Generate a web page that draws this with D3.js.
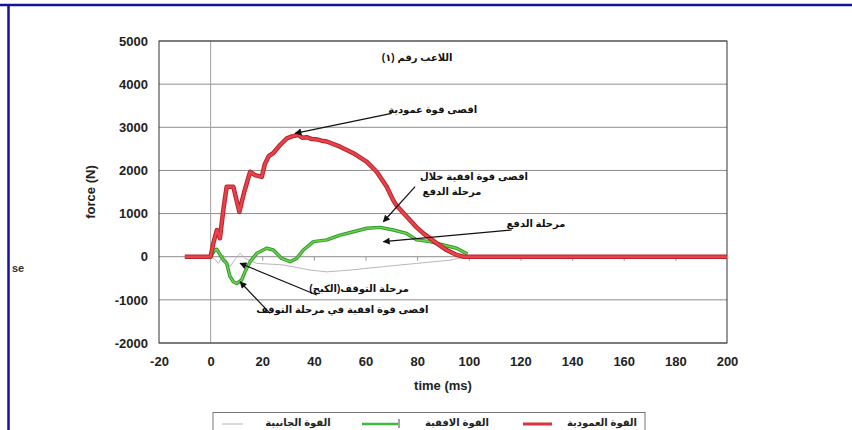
<!DOCTYPE html>
<html>
<head>
<meta charset="utf-8">
<script src="https://cdn.jsdelivr.net/npm/d3@7"></script>
<style>
  body { margin: 0; background: #fff; }
  text { font-family: "Liberation Sans", "DejaVu Sans", Arial, sans-serif; }
</style>
</head>
<body>
<div id="chart"></div>
<script>
// vertical force (red)
var vertT = [-10, 0, 1, 2.4, 3.6, 4.9, 6.2, 8.8, 11.1, 13, 15.3, 17.2, 19.8, 21, 22.5, 24.2, 26.9, 29.5, 31.5, 34, 35.5, 37.2, 39, 41.1, 43, 45, 50.1, 55.3, 60.5, 64.3, 68.2, 70.8, 72.1, 75.9, 79.8, 82.4, 87.6, 91.4, 95, 98, 200];
var vertV = [0, 0, 300, 620, 430, 1080, 1620, 1620, 1040, 1500, 1970, 1890, 1850, 2150, 2330, 2400, 2590, 2745, 2790, 2820, 2760, 2770, 2730, 2720, 2690, 2670, 2550, 2400, 2200, 1970, 1620, 1300, 1180, 930, 680, 540, 310, 155, 50, 0, 0];

// horizontal force (green)
var horT = [0, 1.5, 2.4, 4.9, 6.2, 7.5, 8.8, 10.1, 12, 13.3, 15.3, 17.9, 21.7, 24.3, 27.5, 30.8, 33.3, 35.9, 39.8, 45, 50.1, 55.3, 60.5, 65.6, 70.8, 75.9, 79.8, 85, 90.1, 95.3, 99.5];
var horV = [0, 150, 170, -75, -155, -460, -580, -620, -540, -350, -115, 80, 195, 155, -40, -115, -40, 155, 350, 390, 500, 580, 660, 680, 620, 540, 390, 350, 270, 195, 60];

// lateral force (gray)
var latT = [0, 1.5, 3, 4.9, 7.5, 9.5, 11.4, 13.3, 17.9, 28.2, 38.5, 45, 54, 66.9, 79.8, 92.7, 99];
var latV = [0, -50, -155, 40, -230, -60, 80, -40, -155, -190, -310, -350, -310, -230, -155, -80, 0];

var yTicks = [-2000, -1000, 0, 1000, 2000, 3000, 4000, 5000];
var xTicks = [-20, 0, 20, 40, 60, 80, 100, 120, 140, 160, 180, 200];

var seriesNames = ["القوة الجانبية", "القوة الافقية", "القوة العمودية"];
var seriesColors = ["#b8b8b8", "#3dbb3d", "#d8323a"];

// annotations: text centre, arrow tip and tail in data units
var notes = [
  {lines: ["اقصى قوة عمودية"], tx: [86], ty: 3320, tip: [32.7, 2860], tail: [70.1, 3324]},
  {lines: ["اقصى قوة افقية خلال", "مرحلة الدفع"], tx: [102, 93.5], ty: 1780, tip: [66.9, 811], tail: [79.2, 1623]},
  {lines: ["مرحلة الدفع"], tx: [126], ty: 680, tip: [66.9, 348], tail: [116.6, 619]},
  {lines: ["مرحلة التوقف(الكبح)"], tx: [57.5], ty: -820, tip: [11.4, -153], tail: [41.1, -888]},
  {lines: ["اقصى قوة افقية في مرحلة التوقف"], tx: [51], ty: -1300, tip: [11.4, -580], tail: [23, -1312]}
];

var W = 852, H = 430;
var margin = {top: 41, right: 125, bottom: 87, left: 159};
var width = W - margin.left - margin.right,
    height = H - margin.top - margin.bottom;

var svg = d3.select("#chart").append("svg")
  .attr("width", W).attr("height", H);

// slide frame
svg.append("line").attr("x1", 0).attr("x2", W).attr("y1", 5).attr("y2", 5)
  .attr("stroke", "#14149a").attr("stroke-width", 2.5);
svg.append("line").attr("x1", 8.5).attr("x2", 8.5).attr("y1", 5).attr("y2", H)
  .attr("stroke", "#14149a").attr("stroke-width", 2.5);
svg.append("text").attr("x", 12).attr("y", 272).attr("font-size", 11)
  .attr("font-weight", "bold").attr("fill", "#333").text("se");

var g = svg.append("g").attr("transform", "translate(" + margin.left + "," + margin.top + ")");

var x = d3.scaleLinear().domain([-20, 200]).range([0, width]);
var y = d3.scaleLinear().domain([-2000, 5000]).range([height, 0]);
var plain = function(d) { return String(d); };

// gridlines
g.selectAll(".grid").data(yTicks).enter().append("line")
  .attr("x1", 0).attr("x2", width)
  .attr("y1", function(d) { return y(d); }).attr("y2", function(d) { return y(d); })
  .attr("stroke", "#8c8c8c").attr("stroke-width", 1);
g.append("line").attr("x1", x(0)).attr("x2", x(0)).attr("y1", 0).attr("y2", height)
  .attr("stroke", "#a0a0a0").attr("stroke-width", 1);

// ticks on the zero line
g.append("g").attr("transform", "translate(0," + y(0) + ")")
  .call(d3.axisBottom(x).tickValues(xTicks.filter(function(d) { return d > 0 && d < 200; }))
    .tickSize(4).tickFormat(""))
  .call(function(s) { s.select(".domain").remove(); s.selectAll("line").attr("stroke", "#999"); });

// frame
g.append("rect").attr("width", width).attr("height", height)
  .attr("fill", "none").attr("stroke", "#333").attr("stroke-width", 1);

// axis labels
var yAxis = g.append("g").call(d3.axisLeft(y).tickValues(yTicks).tickFormat(plain).tickSize(0).tickPadding(11));
yAxis.select(".domain").remove();
yAxis.selectAll("text").attr("font-size", 13).attr("font-weight", "bold").attr("fill", "#222")
  .style("font-family", "'Liberation Sans', Arial, sans-serif");

var xAxis = g.append("g").attr("transform", "translate(0," + height + ")")
  .call(d3.axisBottom(x).tickValues(xTicks).tickFormat(plain).tickSize(0).tickPadding(14));
xAxis.select(".domain").remove();
xAxis.selectAll("text").attr("font-size", 13).attr("font-weight", "bold").attr("fill", "#222")
  .style("font-family", "'Liberation Sans', Arial, sans-serif");

g.append("text").attr("transform", "translate(-64," + (height / 2) + ") rotate(-90)")
  .attr("text-anchor", "middle").attr("font-size", 13).attr("font-weight", "bold")
  .attr("fill", "#222").text("force (N)");
g.append("text").attr("x", x(90)).attr("y", height + 47)
  .attr("text-anchor", "middle").attr("font-size", 13).attr("font-weight", "bold")
  .attr("fill", "#222").text("time (ms)");

// title
g.append("text").attr("x", x(80)).attr("y", 20)
  .attr("text-anchor", "middle").attr("font-size", 10).attr("font-weight", "bold")
  .attr("fill", "#111").text("اللاعب رقم (١)");

// lines
var line = d3.line().x(function(d) { return x(d[0]); }).y(function(d) { return y(d[1]); });
var latData = d3.zip(latT, latV), horData = d3.zip(horT, horV), vertData = d3.zip(vertT, vertV);

g.append("path").datum(latData).attr("d", line).attr("fill", "none")
  .attr("stroke", seriesColors[0]).attr("stroke-width", 1);
g.append("path").datum(horData).attr("d", line).attr("fill", "none")
  .attr("stroke", "#2f9a2f").attr("stroke-width", 3.5).attr("stroke-linejoin", "round");
g.append("path").datum(horData).attr("d", line).attr("fill", "none")
  .attr("stroke", "#6fd34a").attr("stroke-width", 1.5).attr("stroke-linejoin", "round");
g.append("path").datum(vertData).attr("d", line).attr("fill", "none")
  .attr("stroke", "#b8242c").attr("stroke-width", 4.5).attr("stroke-linejoin", "round");
g.append("path").datum(vertData).attr("d", line).attr("fill", "none")
  .attr("stroke", "#e8424a").attr("stroke-width", 2.5).attr("stroke-linejoin", "round");

// annotations
svg.append("defs").append("marker").attr("id", "arr")
  .attr("viewBox", "0 0 10 10").attr("refX", 9).attr("refY", 5)
  .attr("markerWidth", 9).attr("markerHeight", 7).attr("orient", "auto")
  .attr("markerUnits", "userSpaceOnUse")
  .append("path").attr("d", "M0,0 L10,5 L0,10 z").attr("fill", "#111");

notes.forEach(function(n) {
  g.append("line")
    .attr("x1", x(n.tail[0])).attr("y1", y(n.tail[1]))
    .attr("x2", x(n.tip[0])).attr("y2", y(n.tip[1]))
    .attr("stroke", "#111").attr("stroke-width", 1.2).attr("marker-end", "url(#arr)");
  n.lines.forEach(function(t, i) {
    g.append("text").attr("x", x(n.tx[i])).attr("y", y(n.ty) + i * 15)
      .attr("text-anchor", "middle").attr("font-size", 10).attr("font-weight", "bold")
      .attr("fill", "#111").text(t);
  });
});

// legend
var lg = svg.append("g");
lg.append("rect").attr("x", 213).attr("y", 412.5).attr("width", 432).attr("height", 30)
  .attr("fill", "#fff").attr("stroke", "#777").attr("stroke-width", 1);
var legX = [222, 362, 523], legLen = [21, 36, 29], legTextX = [298, 457, 602];
var legW = [1, 2.5, 3];
seriesNames.forEach(function(name, i) {
  lg.append("line").attr("x1", legX[i]).attr("x2", legX[i] + legLen[i])
    .attr("y1", 424).attr("y2", 424).attr("stroke", seriesColors[i]).attr("stroke-width", legW[i]);
  lg.append("text").attr("x", legTextX[i]).attr("y", 426).attr("text-anchor", "middle")
    .attr("font-size", 10).attr("font-weight", "bold").attr("fill", "#222").text(name);
});
lg.append("line").attr("x1", 399).attr("x2", 399).attr("y1", 419).attr("y2", 428)
  .attr("stroke", "#444").attr("stroke-width", 1);
</script>
</body>
</html>
